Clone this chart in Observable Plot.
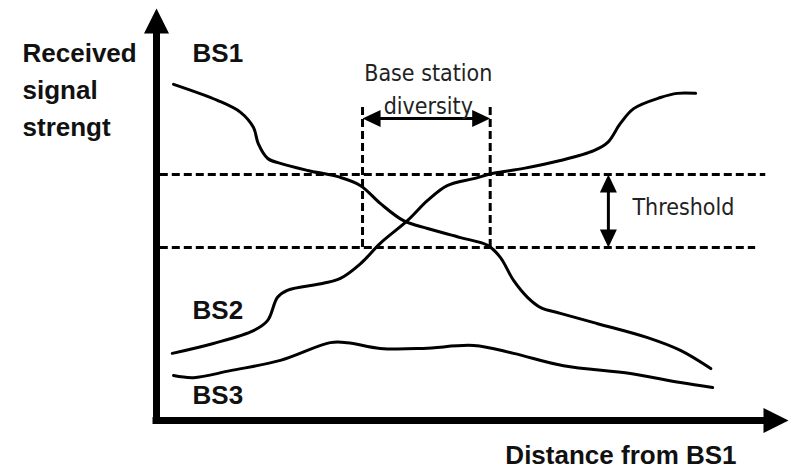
<!DOCTYPE html>
<html><head><meta charset="utf-8">
<script src="https://cdn.jsdelivr.net/npm/d3@7"></script>
<script src="https://cdn.jsdelivr.net/npm/@observablehq/plot@0.6"></script>
<style>html,body{margin:0;padding:0;background:#fff;} #chart svg{display:block;overflow:visible}</style>
</head><body><div id="chart"></div>
<script>
// Received signal strength curves (arbitrary units, 0–100) vs distance from BS1 (0–100)
const bs1X = [2.7, 9.65, 13.3, 15.35, 16.1, 17.6, 19.6, 23.9, 29.1, 32.3, 35.4, 39.1, 42.9, 48.1, 52.4, 54.4, 56.5, 58.7, 60.8, 63.9, 69.8, 77.7, 82.9, 87.7];
const bs1Y = [81.6, 77.7, 74.8, 71.1, 67.2, 63.6, 62.4, 60.7, 59.0, 57.0, 52.7, 48.5, 46.6, 44.4, 42.5, 39.6, 34.0, 29.9, 27.4, 26.0, 23.5, 20.1, 17.0, 12.6];
const bs2X = [2.5, 9.0, 15.35, 17.6, 19.15, 20.7, 26.4, 29.1, 32.3, 35.4, 39.7, 42.9, 46.0, 50.2, 53.3, 58.1, 63.9, 69.2, 71.4, 73.4, 75.5, 79.75, 82.4, 85.3];
const bs2Y = [16.3, 18.7, 21.8, 24.3, 29.9, 31.6, 33.3, 34.5, 38.1, 43.0, 48.5, 53.4, 57.0, 58.7, 60.0, 61.2, 63.1, 65.5, 67.5, 72.1, 75.7, 78.4, 79.4, 79.4];
const bs3X = [2.7, 5.85, 11.7, 19.6, 27.5, 30.2, 35.4, 42.25, 50.2, 56.5, 64.4, 75.0, 82.9, 88.0];
const bs3Y = [10.9, 10.4, 12.1, 14.6, 18.9, 18.9, 17.5, 17.5, 18.2, 16.3, 13.3, 11.4, 9.2, 8.0];

// Threshold band and base-station diversity zone
const thresholdUpper = 59.7;
const thresholdLower = 42.0;
const thresholdUpperEnd = 96.4;
const thresholdLowerEnd = 94.8;
const diversityStart = 32.6;
const diversityEnd = 52.8;
const diversityTop = 76.7;
const diversityArrowY = 73.3;
const thresholdArrowX = 71.5;

// Labels
const stationLabels = ["BS1", "BS2", "BS3"];
const stationLabelX = [5.7, 5.7, 5.7];
const stationLabelY = [91.5, 29.1, 8.5];
const yTitle = "Received\nsignal\nstrengt";
const yTitlePos = [-21.2, 93.4];
const xTitle = "Distance from BS1";
const xTitlePos = [55.2, -6.1];
const diversityLabel = "Base station\ndiversity";
const diversityLabelPos = [43.0, 88.1];
const thresholdLabel = "Threshold";
const thresholdLabelPos = [75.3, 53.9];

const curves = [
  ...bs1X.map((x, i) => ({s: "BS1", x, y: bs1Y[i]})),
  ...bs2X.map((x, i) => ({s: "BS2", x, y: bs2Y[i]})),
  ...bs3X.map((x, i) => ({s: "BS3", x, y: bs3Y[i]}))
];
const stations = stationLabels.map((t, i) => ({t, x: stationLabelX[i], y: stationLabelY[i]}));

function head(dir, L, W) {
  const h = W / 2;
  return {draw(ctx) {
    if (dir === "up") { ctx.moveTo(0, 0); ctx.lineTo(-h, L); ctx.lineTo(h, L); }
    else if (dir === "down") { ctx.moveTo(0, 0); ctx.lineTo(-h, -L); ctx.lineTo(h, -L); }
    else if (dir === "left") { ctx.moveTo(0, 0); ctx.lineTo(L, -h); ctx.lineTo(L, h); }
    else { ctx.moveTo(0, 0); ctx.lineTo(-L, -h); ctx.lineTo(-L, h); }
    ctx.closePath();
  }};
}

const boldFont = "'Liberation Sans', Arial, Helvetica, sans-serif";
const lightFont = "'DejaVu Sans Condensed', 'DejaVu Sans', sans-serif";

const chart = Plot.plot({
  width: 792,
  height: 469,
  marginLeft: 156,
  marginRight: 4,
  marginTop: 8,
  marginBottom: 49,
  x: {domain: [0, 100], axis: null},
  y: {domain: [0, 100], axis: null},
  style: {background: "#fff", color: "#000"},
  marks: [
    // threshold dashed lines
    Plot.ruleY([thresholdUpper], {x1: 0.6, x2: thresholdUpperEnd, stroke: "#000", strokeWidth: 3, strokeDasharray: "8,4"}),
    Plot.ruleY([thresholdLower], {x1: 0.6, x2: thresholdLowerEnd, stroke: "#000", strokeWidth: 3, strokeDasharray: "8,4"}),
    // diversity dashed verticals
    Plot.ruleX([diversityStart, diversityEnd], {y1: thresholdLower, y2: diversityTop, stroke: "#000", strokeWidth: 3, strokeDasharray: "8,4"}),
    // signal curves
    Plot.line(curves, {x: "x", y: "y", z: "s", stroke: "#000", strokeWidth: 3, curve: "catmull-rom"}),
    // diversity arrow
    Plot.ruleY([diversityArrowY], {x1: diversityStart + 1, x2: diversityEnd - 1, stroke: "#000", strokeWidth: 3}),
    Plot.dot([[diversityStart, diversityArrowY]], {x: d => d[0], y: d => d[1], symbol: head("left", 18, 17), fill: "#000", stroke: "none"}),
    Plot.dot([[diversityEnd, diversityArrowY]], {x: d => d[0], y: d => d[1], symbol: head("right", 18, 17), fill: "#000", stroke: "none"}),
    // threshold arrow
    Plot.ruleX([thresholdArrowX], {y1: thresholdLower + 1, y2: thresholdUpper - 1, stroke: "#000", strokeWidth: 3}),
    Plot.dot([[thresholdArrowX, thresholdUpper]], {x: d => d[0], y: d => d[1], symbol: head("up", 18, 17), fill: "#000", stroke: "none"}),
    Plot.dot([[thresholdArrowX, thresholdLower]], {x: d => d[0], y: d => d[1], symbol: head("down", 18, 17), fill: "#000", stroke: "none"}),
    // axes
    Plot.ruleX([0], {y1: -0.85, y2: 95, stroke: "#000", strokeWidth: 7}),
    Plot.ruleY([0], {x1: -0.55, x2: 97, stroke: "#000", strokeWidth: 7}),
    Plot.dot([[0, 100]], {x: d => d[0], y: d => d[1], symbol: head("up", 25, 25), fill: "#000", stroke: "none"}),
    Plot.dot([[100, 0]], {x: d => d[0], y: d => d[1], symbol: head("right", 25, 25), fill: "#000", stroke: "none"}),
    // texts
    Plot.text([yTitle], {x: yTitlePos[0], y: yTitlePos[1], text: d => d, textAnchor: "start", lineAnchor: "top", lineHeight: 1.42, fontSize: 26, fontWeight: "bold", fontFamily: boldFont, fill: "#111"}),
    Plot.text([xTitle], {x: xTitlePos[0], y: xTitlePos[1], text: d => d, textAnchor: "start", lineAnchor: "top", fontSize: 26, fontWeight: "bold", fontFamily: boldFont, fill: "#111"}),
    Plot.text(stations, {x: "x", y: "y", text: "t", textAnchor: "start", lineAnchor: "top", fontSize: 26, fontWeight: "bold", fontFamily: boldFont, fill: "#111"}),
    Plot.text([diversityLabel], {x: diversityLabelPos[0], y: diversityLabelPos[1], text: d => d, textAnchor: "middle", lineAnchor: "top", lineHeight: 1.43, fontSize: 23, fontFamily: lightFont, fill: "#222"}),
    Plot.text([thresholdLabel], {x: thresholdLabelPos[0], y: thresholdLabelPos[1], text: d => d, textAnchor: "start", lineAnchor: "top", fontSize: 23, fontFamily: lightFont, fill: "#222"})
  ]
});
document.getElementById("chart").appendChild(chart);
</script>
</body></html>
